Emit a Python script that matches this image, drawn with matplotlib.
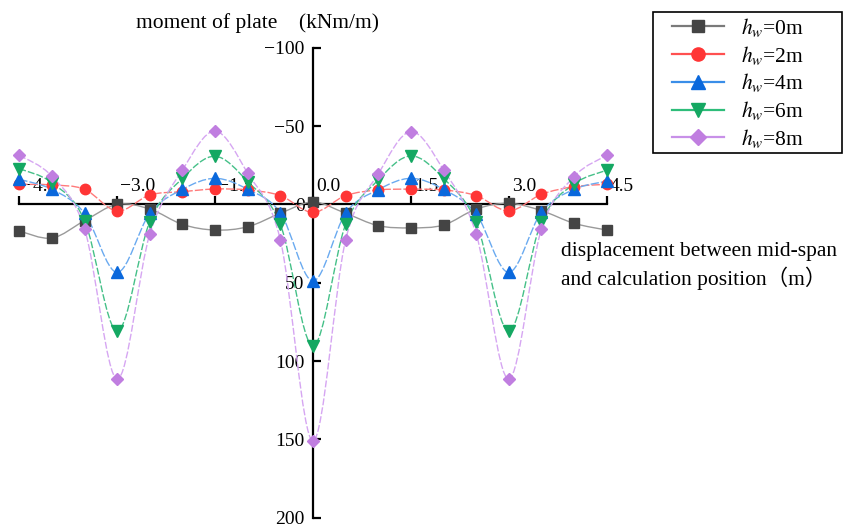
import numpy as np
import matplotlib
matplotlib.use("Agg")
import matplotlib.pyplot as plt
from matplotlib.path import Path
from matplotlib.patches import PathPatch, Rectangle
from matplotlib.lines import Line2D
from matplotlib.transforms import offset_copy

plt.rcParams["font.family"] = ["Liberation Serif", "Noto Sans CJK SC"]
plt.rcParams["mathtext.fontset"] = "stix"

# 计算位置与跨中的距离 (m)
positions = [-4.5, -4.0, -3.5, -3.0, -2.5, -2.0, -1.5, -1.0, -0.5, 0.0,
             0.5, 1.0, 1.5, 2.0, 2.5, 3.0, 3.5, 4.0, 4.5]

# 板的弯矩 (kNm/m)
moment_0m = [17, 21.5, 10.4, 0, 3, 12.8, 16.4, 14.3, 5.7, -1.5,
             5.7, 13.6, 15, 13.2, 3, -0.7, 4, 12.1, 16.4]
moment_2m = [-12.8, -12.4, -9.6, 4.2, -6, -8.1, -9.8, -9.2, -5.6, 5.1,
             -5.6, -9.2, -9.7, -9.2, -5.6, 4.2, -6.4, -11.3, -12.8]
moment_4m = [-16, -9.6, 5.7, 43.4, 5.7, -9.6, -16.6, -9.6, 5.4, 48.9,
             5.7, -9.4, -16.6, -9.6, 6.1, 43.4, 5, -9.6, -14.8]
moment_6m = [-22.8, -13.8, 10.4, 80.9, 11, -16.6, -30.7, -14.5, 12.8, 90.4,
             12.8, -15.6, -30.9, -16.6, 11.5, 80.9, 11, -13, -21.8]
moment_8m = [-31.3, -17.9, 15.7, 111.5, 18.9, -22, -46.7, -19.8, 22.7, 151,
             22.7, -19.4, -46.4, -22, 18.9, 111.5, 15.7, -17.7, -31.3]

series_labels = ["$h_w$=0m", "$h_w$=2m", "$h_w$=4m", "$h_w$=6m", "$h_w$=8m"]
series_values = [moment_0m, moment_2m, moment_4m, moment_6m, moment_8m]

x_ticks = [-4.5, -3.0, -1.5, 0.0, 1.5, 3.0, 4.5]
x_tick_labels = ["\u22124.5", "\u22123.0", "\u22121.5", "0.0", "1.5", "3.0", "4.5"]
y_ticks = [-100, -50, 0, 50, 100, 150, 200]
y_tick_labels = ["\u2212100", "\u221250", "0", "50", "100", "150", "200"]

marker_colors = ["#444444", "#ff3535", "#0a68dc", "#14a862", "#c07ee0"]
line_colors = ["#9a9a9a", "#ff7a7a", "#6aaaf0", "#45c088", "#d6a6f2"]
legend_line_colors = ["#7a7a7a", "#ff5050", "#3a8ee8", "#2ebd7a", "#c890e8"]
markers = ["s", "o", "^", "v", "D"]
marker_sizes = [6.5, 7.5, 8, 8, 6.5]
line_styles = ["-", (0, (6, 1.5)), (0, (6, 1.5)), (0, (5, 1.5)), (0, (5, 1.5))]


# 平滑曲线：Catmull-Rom 转为三次贝塞尔路径
def smooth_path(xs, ys):
    pts = np.column_stack([xs, ys]).astype(float)
    ext = np.vstack([pts[0], pts, pts[-1]])
    verts = [pts[0]]
    codes = [Path.MOVETO]
    for i in range(len(pts) - 1):
        p0, p1, p2, p3 = ext[i], ext[i + 1], ext[i + 2], ext[i + 3]
        verts += [p1 + (p2 - p0) / 6, p2 - (p3 - p1) / 6, p2]
        codes += [Path.CURVE4] * 3
    return Path(verts, codes)


fig = plt.figure(figsize=(8.45, 5.31), dpi=100)
ax = fig.add_axes([19.3 / 845, 1 - 517.7 / 531, (606.7 - 19.3) / 845, (517.7 - 47.7) / 531])

handles = []
for vals, lab, mc, lc, llc, mk, ms, ls in zip(series_values, series_labels, marker_colors,
                                              line_colors, legend_line_colors, markers,
                                              marker_sizes, line_styles):
    patch = PathPatch(smooth_path(positions, vals), facecolor="none", edgecolor=lc,
                      linewidth=1.0, linestyle=ls, zorder=2, clip_on=False)
    ax.add_patch(patch)
    ax.plot(positions, vals, linestyle="none", marker=mk, markersize=ms,
            markerfacecolor=mc, markeredgecolor=mc, zorder=3, clip_on=False)
    handles.append(Line2D([0], [0], color=llc, linewidth=1.6, marker=mk,
                          markersize=ms + 2, markerfacecolor=mc, markeredgecolor=mc, label=lab))

ax.set_xlim(-4.5, 4.5)
ax.set_ylim(200, -100)

for side in ["top", "right"]:
    ax.spines[side].set_visible(False)
for side in ["left", "bottom"]:
    ax.spines[side].set_position(("data", 0))
    ax.spines[side].set_linewidth(1.6)
    ax.spines[side].set_zorder(1)

ax.set_yticks(y_ticks)
ax.set_yticklabels(y_tick_labels)
ax.set_xticks(x_ticks)
ax.set_xticklabels([])
ax.tick_params(axis="both", direction="in", length=5.5, width=1.6, labelsize=14)
ax.tick_params(axis="y", pad=6)

# x 轴刻度标签放在轴线上方、刻度右侧
lab_trans = offset_copy(ax.transData, fig=fig, x=3, y=9, units="dots")
for xt, txt in zip(x_ticks, x_tick_labels):
    ax.text(xt, 0, txt, transform=lab_trans, ha="left", va="bottom", fontsize=14, zorder=1)

fig.text(258 / 845, 1 - 23 / 531, "moment of plate    (kNm/m)", ha="center", va="center",
         fontsize=15.5)
fig.text(561 / 845, 1 - 266 / 531, "displacement between mid-span\nand calculation position（m）",
         ha="left", va="center", fontsize=15.5, linespacing=1.25,
         bbox=dict(facecolor="white", edgecolor="none", pad=1))

# 图例：无边框放置，再单独画外框
leg = fig.legend(handles=handles, loc="upper left", bbox_to_anchor=(672 / 845, 1 - 16 / 531),
                 bbox_transform=fig.transFigure, fontsize=15.5, frameon=False,
                 labelspacing=0.22, handlelength=2.4, handletextpad=0.8,
                 borderpad=0, borderaxespad=0)
fig.add_artist(Rectangle((653 / 845, 1 - 153 / 531), 189 / 845, 141.3 / 531,
                         transform=fig.transFigure, fill=False, edgecolor="black",
                         linewidth=1.2))

fig.savefig("out.png", dpi=100)
